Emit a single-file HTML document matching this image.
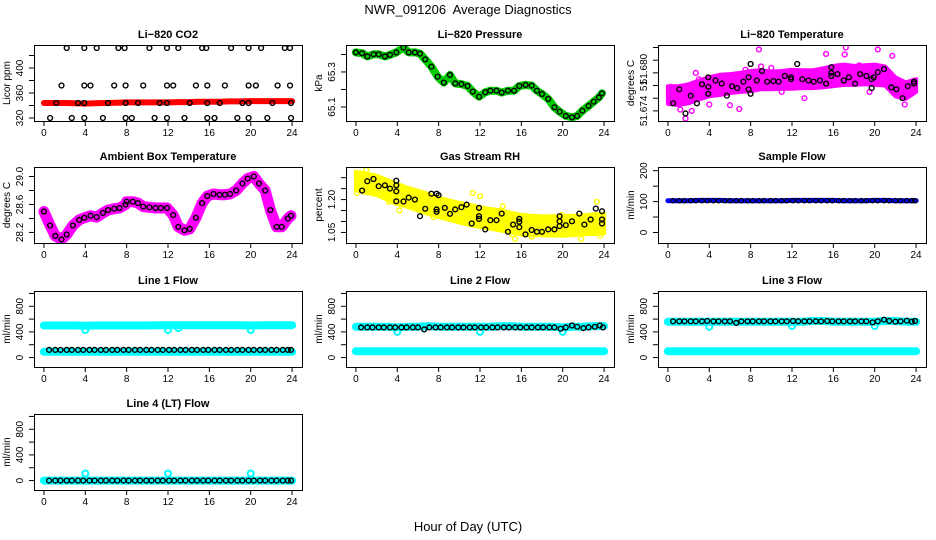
<!DOCTYPE html>
<html><head><meta charset="utf-8">
<style>
html,body{margin:0;padding:0;background:#fff;}
svg{display:block;font-family:"Liberation Sans",sans-serif;}
</style></head>
<body>
<svg id="chart" width="936" height="540" viewBox="0 0 936 540" xmlns="http://www.w3.org/2000/svg">
<rect width="936" height="540" fill="#fff"/>
<text x="468" y="14" font-size="13" text-anchor="middle" style="white-space:pre">NWR_091206  Average Diagnostics</text>
<text x="468" y="531" font-size="13" text-anchor="middle">Hour of Day (UTC)</text>
</svg>
<script>
// ---------- data ----------
const xTicks = [0,4,8,12,16,20,24];
const flowTimes = [0.5,1.1,1.6,2.2,2.7,3.3,3.8,4.4,4.9,5.5,6.0,6.6,7.1,7.7,8.2,8.8,9.3,9.9,10.4,11.0,11.5,12.1,12.6,13.2,13.7,14.3,14.8,15.4,15.9,16.5,17.0,17.6,18.1,18.7,19.2,19.8,20.3,20.9,21.4,22.0,22.5,23.1,23.6,23.9];
const bandTimes = [0,1,2,3,4,5,6,7,8,9,10,11,12,13,14,15,16,17,18,19,20,21,22,23,24];

// CO2
const co2BandValues = [344,344,344,343.5,343,343.5,344,344.5,345,345,345,345,345,345.5,345.5,346,346,346,346.5,346.5,347,347,347,347,347];
const co2Times = [2.2,3.9,5.1,7.2,7.8,10.2,11.9,13.0,15.3,15.7,18.1,19.8,21.0,23.3,23.8, 1.7,3.9,4.5,6.8,7.9,9.6,11.9,12.5,14.7,15.8,17.5,19.8,20.5,22.6,23.8, 1.2,3.3,3.9,6.2,7.9,9.1,11.2,11.9,14.1,15.8,17.0,19.2,19.8,22.1,23.9, 0.6,2.7,3.9,5.7,7.9,8.5,10.7,11.9,13.6,15.8,16.5,18.7,19.8,21.6,23.9];
const co2Values = [432,432,432,432,432,432,432,432,432,432,432,432,432,432,432, 372,372,372,372,372,372,372,372,372,372,372,372,372,372,372, 344,344,344,344,344,344,344,344,344,344,344,344,344,344,344, 320,320,320,320,320,320,320,320,320,320,320,320,320,320,320];

// Pressure
const presTimes = [0,0.6,1.1,1.7,2.2,2.8,3.3,3.9,4.6,5.1,5.7,6.2,6.7,7.3,7.9,8.5,9.1,9.6,10.2,10.8,11.3,11.9,12.5,13.0,13.6,14.1,14.7,15.3,15.8,16.4,17.0,17.5,18.0,18.6,19.2,19.7,20.3,20.9,21.4,21.9,22.5,23.0,23.5,23.8];
const presValues = [65.412,65.407,65.389,65.401,65.401,65.389,65.398,65.412,65.439,65.412,65.412,65.405,65.372,65.330,65.273,65.239,65.283,65.235,65.231,65.220,65.188,65.159,65.184,65.193,65.193,65.182,65.193,65.193,65.220,65.226,65.222,65.193,65.174,65.146,65.098,65.073,65.049,65.041,65.049,65.079,65.106,65.130,65.155,65.178];

// Li-820 temperature
const tempBandCenter = [51.6765,51.6764,51.6767,51.6773,51.6778,51.6781,51.6783,51.6785,51.6787,51.6789,51.6788,51.6789,51.6790,51.6790,51.6790,51.6792,51.6795,51.6797,51.6796,51.6797,51.6797,51.6795,51.6778,51.6772,51.6780];
const tempBandHalf = [0.0014,0.0015,0.0015,0.0015,0.0015,0.0016,0.0015,0.0015,0.0016,0.0015,0.0014,0.0014,0.0015,0.0014,0.0014,0.0015,0.0016,0.0016,0.0015,0.0015,0.0016,0.0015,0.0015,0.0013,0.0010];
const tempOutTimes = [8.8,15.3,17.1,17.2,20.3,21.7,6.9,1.7,6.0,1.2,2.3,22.9,13.2,16.1,9.0,2.7,4.0,7.5,10.0,11.0,18.5,19.5,0.3,3.0];
const tempOutValues = [51.6837,51.6830,51.6829,51.6840,51.6837,51.6827,51.6743,51.6728,51.6749,51.6742,51.6740,51.6750,51.6760,51.6808,51.6810,51.6800,51.6750,51.6805,51.6808,51.6770,51.6812,51.6770,51.6778,51.6790];
const tempTimes = [0.5,1.1,1.7,2.2,2.8,3.3,3.9,3.9,3.9,4.6,5.2,5.7,6.2,6.7,7.3,7.8,7.8,8.0,8.0,8.6,9.1,9.6,10.2,10.7,11.3,11.9,11.9,12.5,13.0,13.6,14.1,14.7,15.3,15.8,15.8,15.8,16.4,17.0,17.5,18.1,18.6,19.2,19.7,19.7,19.9,20.3,20.9,21.6,22.1,22.7,23.2,23.8,23.8];
const tempValues = [51.6752,51.6774,51.6736,51.6764,51.6752,51.6782,51.6778,51.6793,51.6767,51.6788,51.6783,51.6764,51.6779,51.6776,51.6786,51.6793,51.6774,51.6767,51.6814,51.6788,51.6803,51.6786,51.6787,51.6786,51.6795,51.6793,51.6790,51.6814,51.6790,51.6788,51.6786,51.6788,51.6783,51.6795,51.6800,51.6809,51.6798,51.6788,51.6793,51.6783,51.6798,51.6795,51.6790,51.6776,51.6793,51.6801,51.6806,51.6777,51.6774,51.6760,51.6779,51.6786,51.6783];

// Ambient box temperature
const ambTimes = [0,0.6,1.1,1.7,2.2,2.8,3.4,3.9,4.5,5.1,5.7,6.2,6.8,7.3,7.9,8.0,8.6,9.1,9.6,10.2,10.8,11.3,11.9,12.5,13.0,13.6,14.1,14.7,15.3,15.8,16.4,17.0,17.5,18.0,18.6,19.2,19.7,20.3,20.8,21.4,21.9,22.5,23.0,23.6,23.9];
const ambValues = [28.50,28.30,28.15,28.10,28.17,28.30,28.38,28.41,28.44,28.42,28.48,28.52,28.54,28.55,28.60,28.64,28.64,28.62,28.57,28.56,28.55,28.55,28.55,28.45,28.28,28.23,28.25,28.41,28.62,28.72,28.75,28.74,28.74,28.75,28.80,28.90,28.97,29.00,28.90,28.80,28.52,28.28,28.28,28.40,28.44];

// Gas stream RH
const rhBandCenter = [1.285,1.275,1.265,1.245,1.225,1.210,1.195,1.180,1.165,1.152,1.140,1.130,1.120,1.112,1.105,1.095,1.085,1.082,1.080,1.080,1.080,1.082,1.085,1.088,1.090];
const rhBandHalf = [0.042,0.045,0.044,0.045,0.046,0.044,0.045,0.046,0.045,0.044,0.045,0.046,0.045,0.045,0.046,0.044,0.045,0.044,0.043,0.044,0.045,0.044,0.043,0.045,0.045];
const rhOutTimes = [0.1,1.0,3.2,4.2,7.5,11.3,12.0,14.2,15.1,15.4,17.0,19.9,21.8,23.3,23.6,5.6,6.4];
const rhOutValues = [1.230,1.335,1.190,1.150,1.120,1.230,1.215,1.170,1.040,1.020,1.030,1.130,1.020,1.190,1.035,1.190,1.180];
const rhTimes = [0.6,1.1,1.7,2.2,2.8,3.3,3.9,3.9,3.9,3.9,4.6,5.1,5.7,6.2,6.7,7.3,7.8,7.8,7.8,8.0,8.6,9.1,9.6,10.2,10.7,11.2,11.9,11.9,11.9,12.5,13.0,13.6,14.1,14.7,15.2,15.8,15.8,15.8,16.4,17.0,17.5,18.0,18.6,19.2,19.7,19.7,19.7,20.3,20.9,21.6,22.1,22.7,23.2,23.8,23.8,23.8];
const rhValues = [1.241,1.284,1.294,1.261,1.265,1.250,1.286,1.265,1.238,1.192,1.191,1.209,1.200,1.124,1.158,1.227,1.227,1.155,1.144,1.220,1.162,1.135,1.155,1.165,1.177,1.091,1.162,1.124,1.112,1.064,1.106,1.106,1.136,1.053,1.086,1.112,1.099,1.074,1.041,1.061,1.053,1.053,1.064,1.064,1.101,1.124,1.079,1.083,1.101,1.136,1.086,1.109,1.159,1.147,1.109,1.091];

// Sample flow
const sampleBand = [103,103,103,104,104,104,103,103,103,103,103,103,104,104,104,104,104,103,103,103,104,104,103,103,103];
const sampleValues = [103,103,103,103,103,103,103,103,103,103,103,103,103,103,103,103,103,103,103,103,103,103,103,103,103,103,103,103,103,103,103,103,103,103,103,103,103,103,103,103,103,103,103,103];

// Line flows
const line1HiBand = [500,500,500,500,495,500,500,500,500,500,500,505,505,505,505,505,505,505,505,505,500,505,505,505,505];
const line1LoBand = [90,90,90,90,90,90,90,90,90,90,90,90,90,90,90,90,90,90,90,90,90,90,90,90,90];
const line1DipTimes = [4.0,12.0,13.0,20.0];
const line1DipValues = [430,430,460,430];
const line1Values = [120,120,120,120,120,120,120,120,120,120,120,120,120,120,120,120,120,120,120,120,120,120,120,120,120,120,120,120,120,120,120,120,120,120,120,120,120,120,120,120,120,120,120,120];

const line2HiBand = [480,480,480,480,470,480,480,490,480,480,480,480,480,480,490,490,480,480,480,480,470,480,480,490,490];
const line2LoBand = [100,100,100,100,100,100,100,100,100,100,100,100,100,100,100,100,100,100,100,100,100,100,100,100,100];
const line2DipTimes = [4.0,12.0,20.0];
const line2DipValues = [400,400,400];
const line2Values = [470,470,470,470,470,470,470,470,470,470,470,440,470,470,470,470,470,470,470,470,470,470,470,470,470,470,470,470,470,470,470,470,470,470,470,450,470,500,480,460,470,480,500,470];

const line3HiBand = [560,560,560,560,560,560,560,560,560,560,560,560,560,560,570,570,560,560,560,560,560,570,570,560,560];
const line3LoBand = [100,100,100,100,100,100,100,100,100,100,100,100,100,100,100,100,100,100,100,100,100,100,100,100,100];
const line3DipTimes = [4.0,12.0,20.0];
const line3DipValues = [480,490,490];
const line3Values = [565,565,565,565,565,565,570,565,565,565,565,540,565,565,565,565,565,565,565,565,565,570,565,565,565,565,565,570,565,565,565,565,565,565,565,550,565,590,570,560,565,575,560,570];

const line4Band = [0,0,0,0,0,0,0,0,0,0,0,0,0,0,0,0,0,0,0,0,0,0,0,0,0];
const line4SpikeTimes = [4.0,12.0,20.0];
const line4SpikeValues = [110,110,110];
const line4Values = [0,0,0,0,0,0,0,0,0,0,0,0,0,0,0,0,0,0,0,0,0,0,0,0,0,0,0,0,0,0,0,0,0,0,0,0,0,0,0,0,0,0,0,0];

// ---------- drawing ----------
const NS = "http://www.w3.org/2000/svg";
const svg = document.getElementById('chart');
const colL = [34,346,658], rowT = [45,167,291,414], W = 268, H = 76;

function mk(tag, attrs, parent){
  const e = document.createElementNS(NS, tag);
  for (const k in attrs) e.setAttribute(k, attrs[k]);
  (parent||svg).appendChild(e);
  return e;
}

function panel(p){
  const L = colL[p.col], T = rowT[p.row], B = T + H, R = L + W;
  const g = mk('g', {});
  
  
  const xs = t => L + (t + 0.96) / 25.92 * W;
  const ys = v => B - (v - p.ymin) / (p.ymax - p.ymin) * H;
  p.xs = xs; p.ys = ys; p.g = g;
  const tt = mk('text', {x: L + W/2, y: T - 7, 'font-size': 11, 'font-weight': 'bold', 'text-anchor': 'middle'}, g);
  tt.textContent = p.title;
  
  
  const yl = mk('text', {x: 0, y: 0, 'font-size': 10, 'text-anchor': 'middle', transform: `translate(${L-24},${T+H/2}) rotate(-90)`}, g);
  yl.textContent = p.ylab;
  
  
  const xa = mk('g', {stroke: '#000', 'stroke-width': 1}, g);
  
  
  mk('line', {x1: xs(0), x2: xs(24), y1: B + 0.5, y2: B + 0.5}, xa);
  xTicks.forEach(t => {
    mk('line', {x1: xs(t), x2: xs(t), y1: B, y2: B + 5}, xa);
    const lb = mk('text', {x: xs(t), y: B + 15, 'font-size': 10, 'text-anchor': 'middle', stroke: 'none'}, xa);
    lb.textContent = t;
    
    
  });
  const ya = mk('g', {stroke: '#000', 'stroke-width': 1}, g);
  
  
  mk('line', {x1: L + 0.5, x2: L + 0.5, y1: ys(p.ticks[0]), y2: ys(p.ticks[p.ticks.length-1])}, ya);
  p.ticks.forEach(v => mk('line', {x1: L - 5, x2: L, y1: ys(v), y2: ys(v)}, ya));
  p.labels.forEach(lv => {
    const lb = mk('text', {x: 0, y: 0, 'font-size': 10, 'text-anchor': 'middle', stroke: 'none', transform: `translate(${L-11},${ys(lv[0])}) rotate(-90)`}, ya);
    lb.textContent = lv[1];
    
    
  });
  const cid = 'clip-' + p.name;
  const cp = mk('clipPath', {id: cid}, g);
  mk('rect', {x: L, y: T, width: W, height: H}, cp);
  p.plot = mk('g', {'clip-path': `url(#${cid})`}, g);
  
  
  p.box = [L, T];
  return p;
}
function finishBox(p){
  const b = mk('rect', {x: p.box[0] + 0.5, y: p.box[1] + 0.5, width: W, height: H, fill: 'none', stroke: '#000', 'stroke-width': 1}, p.g);
  
  
}
function thickLine(p, times, vals, color, width, name){
  const pts = times.map((t, i) => p.xs(t).toFixed(1) + ',' + p.ys(vals[i]).toFixed(1)).join(' ');
  const e = mk('polyline', {points: pts, fill: 'none', stroke: color, 'stroke-width': width, 'stroke-linejoin': 'round', 'stroke-linecap': 'round'}, p.plot);
  
  
}
function band(p, times, center, half, color, name){
  const up = times.map((t, i) => p.xs(t).toFixed(1) + ',' + p.ys(center[i] + half[i]).toFixed(1));
  const dn = times.map((t, i) => p.xs(t).toFixed(1) + ',' + p.ys(center[i] - half[i]).toFixed(1)).reverse();
  const e = mk('polygon', {points: up.concat(dn).join(' '), fill: color, stroke: color, 'stroke-width': 4, 'stroke-linejoin': 'round'}, p.plot);
  
  
}
function circles(p, times, vals, color, name, r, sw){
  const gg = mk('g', {fill: 'none', stroke: color, 'stroke-width': sw || 1.4}, p.plot);
  
  
  times.forEach((t, i) => {
    const c = mk('circle', {cx: p.xs(t).toFixed(1), cy: p.ys(vals[i]).toFixed(1), r: r || 2.4}, gg);
    
    
  });
}

const flowTicks = [0,200,400,600,800,1000], flowLabels = [[0,'0'],[400,'400'],[800,'800']];
const pCO2 = panel({name:'co2', col:0,row:0,title:'Li−820 CO2',ylab:'Licor ppm',ymin:315.2,ymax:436.8,ticks:[320,340,360,380,400,420],labels:[[320,'320'],[360,'360'],[400,'400']]});
thickLine(pCO2, bandTimes, co2BandValues, '#ff0000', 6, 'co2-red-series');
circles(pCO2, co2Times, co2Values, '#000', 'co2-black-series');
finishBox(pCO2);

const pPres = panel({name:'pressure', col:1,row:0,title:'Li−820 Pressure',ylab:'kPa',ymin:65.02,ymax:65.454,ticks:[65.1,65.2,65.3,65.4],labels:[[65.1,'65.1'],[65.3,'65.3']]});
thickLine(pPres, presTimes, presValues, '#00cc00', 8, 'pressure-green-series');
circles(pPres, presTimes, presValues, '#000', 'pressure-black-series');
finishBox(pPres);

const pTemp = panel({name:'li820-temp', col:2,row:0,title:'Li−820 Temperature',ylab:'degrees C',ymin:51.6724,ymax:51.6844,ticks:[51.674,51.676,51.678,51.680,51.682,51.684],labels:[[51.674,'51.674'],[51.678,'51'],[51.6806,'51.680']]});
band(pTemp, bandTimes, tempBandCenter, tempBandHalf, '#ff00ff', 'li820-temp-magenta-band');
circles(pTemp, tempOutTimes, tempOutValues, '#ff00ff', 'li820-temp-magenta-series');
circles(pTemp, tempTimes, tempValues, '#000', 'li820-temp-black-series');
finishBox(pTemp);

const pAmb = panel({name:'ambient-temp', col:0,row:1,title:'Ambient Box Temperature',ylab:'degrees C',ymin:28.049,ymax:29.136,ticks:[28.2,28.4,28.6,28.8,29.0],labels:[[28.2,'28.2'],[28.6,'28.6'],[29.0,'29.0']]});
thickLine(pAmb, ambTimes, ambValues, '#ff00ff', 11, 'ambient-magenta-series');
circles(pAmb, ambTimes, ambValues, '#000', 'ambient-black-series');
finishBox(pAmb);

const pRH = panel({name:'gas-rh', col:1,row:1,title:'Gas Stream RH',ylab:'percent',ymin:1.0018,ymax:1.3487,ticks:[1.05,1.10,1.15,1.20,1.25,1.30],labels:[[1.05,'1.05'],[1.20,'1.20']]});
band(pRH, bandTimes, rhBandCenter, rhBandHalf, '#ffff00', 'rh-yellow-band');
circles(pRH, rhOutTimes, rhOutValues, '#ffff00', 'rh-yellow-series');
circles(pRH, rhTimes, rhValues, '#000', 'rh-black-series');
finishBox(pRH);

const pSample = panel({name:'sample-flow', col:2,row:1,title:'Sample Flow',ylab:'ml/min',ymin:-34,ymax:212,ticks:[0,50,100,150,200],labels:[[0,'0'],[100,'100'],[200,'200']]});
thickLine(pSample, bandTimes, sampleBand, '#0000ff', 5, 'sample-blue-series');
circles(pSample, flowTimes, sampleValues, '#000', 'sample-black-series', 2.2, 1.2);
finishBox(pSample);

const flowPanels = [
  {name:'line1-flow', col:0,row:2,title:'Line 1 Flow', hi:line1HiBand, lo:line1LoBand, dt:line1DipTimes, dv:line1DipValues, v:line1Values},
  {name:'line2-flow', col:1,row:2,title:'Line 2 Flow', hi:line2HiBand, lo:line2LoBand, dt:line2DipTimes, dv:line2DipValues, v:line2Values},
  {name:'line3-flow', col:2,row:2,title:'Line 3 Flow', hi:line3HiBand, lo:line3LoBand, dt:line3DipTimes, dv:line3DipValues, v:line3Values},
  {name:'line4-flow', col:0,row:3,title:'Line 4 (LT) Flow', hi:line4Band, lo:null, dt:line4SpikeTimes, dv:line4SpikeValues, v:line4Values}
];
flowPanels.forEach(f => {
  const p = panel({name:f.name, col:f.col,row:f.row,title:f.title,ylab:'ml/min',ymin:-147,ymax:1038,ticks:flowTicks,labels:flowLabels});
  thickLine(p, bandTimes, f.hi, '#00ffff', 8, f.name + '-cyan-high-series');
  if (f.lo) thickLine(p, bandTimes, f.lo, '#00ffff', 8, f.name + '-cyan-low-series');
  circles(p, f.dt, f.dv, '#00ffff', f.name + '-cyan-outliers', 3, 2);
  circles(p, flowTimes, f.v, '#000', f.name + '-black-series');
  finishBox(p);
});
</script>
</body></html>
